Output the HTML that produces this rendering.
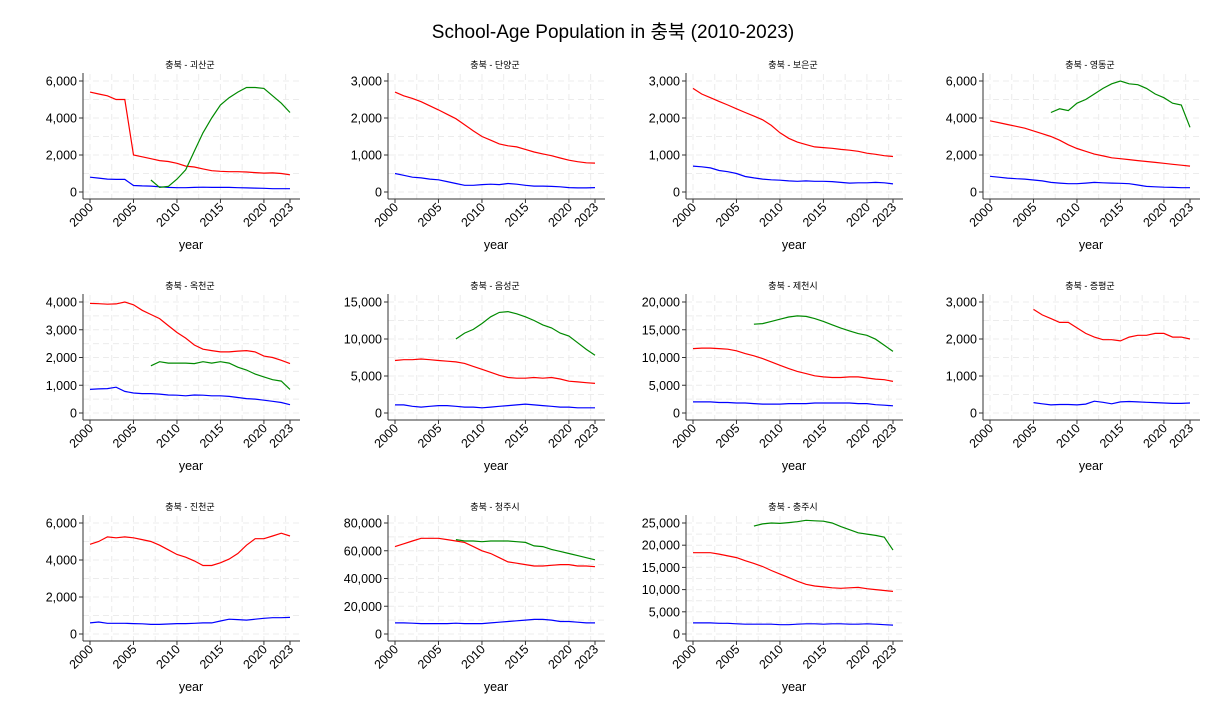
<!DOCTYPE html>
<html><head><meta charset="utf-8">
<style>
body{margin:0;background:#fff;}
svg{display:block;font-family:"Liberation Sans","Noto Sans CJK KR",sans-serif;}
</style></head>
<body>
<svg id="chart" width="1226" height="728">
<text x="613" y="38" text-anchor="middle" font-size="19">School-Age Population in 충북 (2010-2023)</text>
</svg>
<script>
const years = [2000,2001,2002,2003,2004,2005,2006,2007,2008,2009,2010,2011,2012,2013,2014,2015,2016,2017,2018,2019,2020,2021,2022,2023];
const panelNames = ["괴산군","단양군","보은군","영동군","옥천군","음성군","제천시","증평군","진천군","청주시","충주시"];
const yMax = [6000,3000,3000,6000,4000,15000,20000,3000,6000,80000,25000];
const yStep = [2000,1000,1000,2000,1000,5000,5000,1000,2000,20000,5000];
const N = null;
const redSeries = [
 [5400,5300,5200,5000,5000,2000,1900,1800,1700,1650,1550,1400,1350,1250,1150,1120,1100,1100,1080,1050,1020,1030,1000,930],
 [2700,2600,2530,2440,2330,2220,2100,1980,1820,1650,1500,1400,1300,1250,1220,1150,1080,1030,980,920,860,820,790,780],
 [2800,2650,2550,2450,2350,2250,2150,2050,1950,1800,1600,1450,1350,1280,1220,1200,1180,1150,1130,1100,1050,1020,980,960],
 [3850,3750,3650,3550,3450,3300,3150,3000,2800,2550,2350,2200,2050,1950,1850,1800,1750,1700,1650,1600,1550,1500,1450,1400],
 [3950,3940,3920,3930,4000,3900,3700,3550,3400,3150,2900,2700,2450,2300,2250,2200,2200,2230,2250,2200,2050,2000,1900,1780],
 [7100,7200,7200,7300,7200,7100,7000,6900,6700,6300,5900,5500,5100,4800,4700,4700,4800,4700,4800,4600,4300,4200,4100,4000],
 [11600,11700,11700,11600,11500,11200,10700,10300,9800,9200,8600,8000,7500,7100,6700,6500,6400,6400,6500,6500,6300,6100,6000,5700],
 [N,N,N,N,N,2800,2650,2550,2450,2450,2300,2150,2050,1980,1980,1950,2050,2100,2100,2150,2150,2050,2050,2000],
 [4850,5000,5250,5200,5250,5200,5100,5000,4800,4550,4300,4150,3950,3700,3700,3850,4050,4350,4800,5150,5150,5300,5450,5300],
 [63000,65000,67000,69000,69000,69000,68000,67000,66000,63000,60000,58000,55000,52000,51000,50000,49000,49000,49500,50000,50000,49000,49000,48500],
 [18300,18300,18300,18000,17600,17200,16500,15900,15200,14300,13500,12700,11900,11200,10800,10600,10400,10300,10400,10500,10200,10000,9800,9600]
];
const blueSeries = [
 [800,750,700,680,680,350,330,320,280,250,230,230,250,260,250,250,250,230,220,210,200,180,180,180],
 [500,450,400,380,350,330,280,230,180,180,200,210,200,230,210,180,160,160,150,140,120,110,110,120],
 [700,680,650,580,550,500,420,380,350,330,320,300,290,300,290,290,280,260,240,250,250,260,250,220],
 [850,800,750,720,700,650,600,520,480,450,450,480,520,500,480,470,450,380,300,280,260,250,230,230],
 [850,870,880,930,780,720,700,700,680,650,640,620,650,640,620,620,600,560,520,500,460,420,380,300],
 [1100,1100,900,800,900,1000,1000,900,800,800,700,800,900,1000,1100,1200,1100,1000,900,800,800,700,700,700],
 [2000,2000,2000,1900,1900,1800,1800,1700,1600,1600,1600,1700,1700,1700,1800,1800,1800,1800,1800,1700,1700,1500,1400,1300],
 [N,N,N,N,N,280,250,220,230,230,220,240,320,290,250,300,310,300,290,280,270,260,260,270],
 [600,650,580,580,580,560,550,520,520,540,560,560,580,600,600,700,800,780,750,800,850,880,880,900],
 [8000,8000,7800,7500,7500,7500,7500,7800,7500,7500,7500,8000,8500,9000,9500,10000,10500,10500,10000,9000,9000,8500,8000,8000],
 [2500,2500,2500,2400,2400,2300,2200,2200,2200,2200,2100,2100,2200,2300,2300,2200,2300,2300,2200,2200,2300,2200,2100,2000]
];
const greenSeries = [
 [N,N,N,N,N,N,N,650,250,300,700,1200,2200,3200,4000,4700,5100,5400,5650,5650,5600,5200,4800,4300],
 null, null,
 [N,N,N,N,N,N,N,4300,4500,4400,4800,5000,5300,5600,5850,6000,5850,5800,5600,5300,5100,4800,4700,3500],
 [N,N,N,N,N,N,N,1700,1850,1800,1800,1800,1780,1850,1800,1850,1800,1650,1550,1400,1300,1200,1150,850],
 [N,N,N,N,N,N,N,10000,10800,11300,12100,13000,13600,13700,13400,13000,12500,11900,11500,10800,10400,9500,8600,7800],
 [N,N,N,N,N,N,N,16000,16100,16500,16900,17300,17500,17400,17000,16500,15900,15300,14800,14300,14000,13300,12200,11100],
 null,
 null,
 [N,N,N,N,N,N,N,68000,67000,67000,66500,67000,67000,67000,66500,66000,63500,63000,61000,59500,58000,56500,55000,53500],
 [N,N,N,N,N,N,N,24300,24800,25000,24900,25100,25300,25600,25500,25400,25000,24200,23500,22800,22500,22200,21800,18900]
];
const xTicks = [2000,2005,2010,2015,2020,2023];

const NS="http://www.w3.org/2000/svg";
const svg=document.getElementById('chart');
const colX=[90,395,693,990];
const rowZero=[192,413,634];
function mk(tag,attrs,parent){const e=document.createElementNS(NS,tag);for(const k in attrs)e.setAttribute(k,attrs[k]);(parent||svg).appendChild(e);return e;}
function fmt(v){return v.toLocaleString('en-US');}

panelNames.forEach((name,i)=>{
  const c=i%4,r=Math.floor(i/4);
  const x0=colX[c], y0=rowZero[r];
  const g=mk('g',{});
  
  
  const xs=yr=>x0+(yr-2000)/23*200;
  const ys=v=>y0-v/yMax[i]*111;
  const axL=x0-7, axB=y0+7;
  // grid
  for(let v=0;v<=yMax[i];v+=yStep[i]/2){
    const gl=mk('line',{x1:axL,x2:x0+210,y1:ys(v),y2:ys(v),stroke:'#ececec','stroke-width':1,'stroke-dasharray':'6,4'},g);
    
    
  }
  for(let yr=2000;yr<=2023;yr+=2.5){
    const gl=mk('line',{x1:xs(yr),x2:xs(yr),y1:y0-118,y2:axB,stroke:'#ececec','stroke-width':1,'stroke-dasharray':'6,4'},g);
    
    
  }
  // title
  const t=mk('text',{x:x0+100,y:y0-124,'text-anchor':'middle','font-size':9},g);
  t.textContent='충북 - '+name;
  
  
  // axes
  const ya=mk('line',{x1:axL,x2:axL,y1:y0-119,y2:axB,stroke:'#333','stroke-width':1},g);
  
  
  const xa=mk('line',{x1:axL,x2:x0+210,y1:axB,y2:axB,stroke:'#333','stroke-width':1},g);
  
  
  for(let v=0;v<=yMax[i];v+=yStep[i]){
    mk('line',{x1:axL-4,x2:axL,y1:ys(v),y2:ys(v),stroke:'#333'},g);
    const tl=mk('text',{x:axL-6,y:ys(v)+4.5,'text-anchor':'end','font-size':12.5},g);
    tl.textContent=fmt(v);
    
    
  }
  xTicks.forEach(yr=>{
    mk('line',{x1:xs(yr),x2:xs(yr),y1:axB,y2:axB+4,stroke:'#333'},g);
    const tl=mk('text',{x:xs(yr)+4,y:axB+9,'text-anchor':'end','font-size':12.5,transform:`rotate(-45 ${xs(yr)+4} ${axB+9})`},g);
    tl.textContent=yr;
    
    
  });
  const xt=mk('text',{x:x0+101,y:y0+57,'text-anchor':'middle','font-size':12.5},g);
  xt.textContent='year';
  
  
  // series
  [[blueSeries[i],'#0000ff','blue'],[redSeries[i],'#ff0000','red'],[greenSeries[i],'#008a00','green']].forEach(([arr,col,nm])=>{
    if(!arr)return;
    let d='';let pen=false;
    arr.forEach((v,k)=>{
      if(v==null){pen=false;return;}
      d+=(pen?'L':'M')+xs(years[k]).toFixed(1)+','+ys(v).toFixed(1);pen=true;
    });
    const p=mk('path',{d:d,fill:'none',stroke:col,'stroke-width':1.2},g);
    
    
  });
});
</script>
</body></html>
